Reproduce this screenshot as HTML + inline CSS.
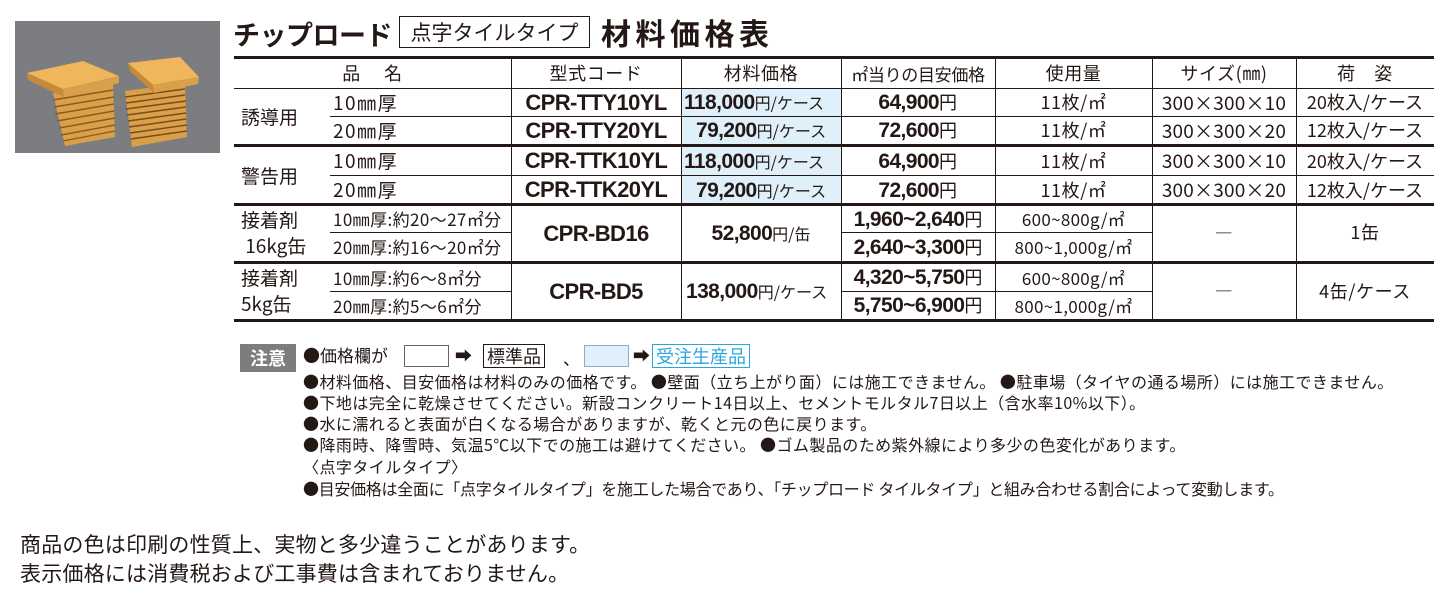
<!DOCTYPE html>
<html><head><meta charset="utf-8">
<style>
*{margin:0;padding:0;box-sizing:border-box}
body{width:1446px;height:608px;background:#fff;position:relative;overflow:hidden;font-family:"Noto Sans CJK JP","Liberation Sans",sans-serif;color:#231815}
.a{position:absolute;white-space:nowrap}
.c{position:absolute;white-space:nowrap;text-align:center;font-size:18px;letter-spacing:0.6px}
.h{position:absolute;background:#231815}
.v{position:absolute;background:#231815;width:1px}
.b{font-family:"Liberation Sans",sans-serif;font-weight:bold;font-size:22px;letter-spacing:-0.6px}
.bp{font-family:"Liberation Sans",sans-serif;font-weight:bold;font-size:21px;letter-spacing:-0.6px}
.sm{font-size:16px;letter-spacing:0}
.n{position:absolute;left:303px;font-size:16px;white-space:nowrap;letter-spacing:0.45px;line-height:21px}
.bl{position:absolute;background:#dff0fb}
.p{position:absolute;font-size:18px;letter-spacing:0.8px}
.g{position:absolute;font-size:19px;line-height:25px;white-space:nowrap}
</style></head><body>

<!-- photo -->
<svg class="a" style="left:15px;top:21px" width="205" height="132" viewBox="0 0 205 132">
<rect width="205" height="132" fill="#7c7d80"/>
<polygon points="38,72 98,62 100,116 50,125" fill="#d9a048"/>
<g stroke="#8a5a25" stroke-width="1.4">
<line x1="38" y1="79" x2="98" y2="69"/><line x1="39" y1="86" x2="99" y2="76"/><line x1="40" y1="93" x2="99" y2="83"/><line x1="42" y1="100" x2="99" y2="90"/><line x1="44" y1="107" x2="100" y2="97"/><line x1="46" y1="114" x2="100" y2="104"/><line x1="48" y1="120" x2="100" y2="110"/>
</g>
<polygon points="12,52 68,40 104,55 48,68" fill="#efb65c"/>
<polygon points="12,52 48,68 49,76 13,59" fill="#c88a3a"/>
<polygon points="48,68 104,55 104,62 49,76" fill="#d8a04a"/>
<polygon points="110,70 170,62 172,116 117,126" fill="#d9a048"/>
<g stroke="#7a4a20" stroke-width="1.4">
<line x1="110" y1="76" x2="170" y2="68"/><line x1="111" y1="82" x2="170" y2="74"/><line x1="111" y1="88" x2="171" y2="80"/><line x1="112" y1="94" x2="171" y2="86"/><line x1="113" y1="100" x2="171" y2="92"/><line x1="114" y1="106" x2="171" y2="98"/><line x1="115" y1="112" x2="172" y2="104"/><line x1="116" y1="118" x2="172" y2="110"/>
</g>
<polygon points="113,42 165,36 184,56 138,64" fill="#efb65c"/>
<polygon points="113,42 138,64 139,72 115,50" fill="#c88a3a"/>
<polygon points="138,64 184,56 183,63 139,72" fill="#d8a04a"/>
</svg>

<!-- title -->
<div class="a" style="left:233px;top:14px;font-size:27px;font-weight:bold;letter-spacing:-0.5px">チップロード</div>
<div class="a" style="left:399px;top:16px;width:191px;height:32px;border:1px solid #231815;font-size:21px;text-align:center;line-height:30px">点字タイルタイプ</div>
<div class="a" style="left:601px;top:12px;font-size:30px;font-weight:bold;letter-spacing:4.5px;line-height:40px">材料価格表</div>

<!-- blue cells -->
<div class="bl" style="left:681px;top:88px;width:160px;height:57px"></div>
<div class="bl" style="left:681px;top:147px;width:160px;height:57px"></div>

<!-- horizontal lines -->
<div class="h" style="left:234px;top:56px;width:1200px;height:3px"></div>
<div class="h" style="left:234px;top:88px;width:1200px;height:1px"></div>
<div class="h" style="left:330px;top:116px;width:1104px;height:1px"></div>
<div class="h" style="left:234px;top:144px;width:1200px;height:3px"></div>
<div class="h" style="left:330px;top:175px;width:1104px;height:1px"></div>
<div class="h" style="left:234px;top:203px;width:1200px;height:3px"></div>
<div class="h" style="left:330px;top:232px;width:181px;height:1px"></div>
<div class="h" style="left:841px;top:232px;width:311px;height:1px"></div>
<div class="h" style="left:234px;top:261px;width:1200px;height:3px"></div>
<div class="h" style="left:330px;top:291px;width:181px;height:1px"></div>
<div class="h" style="left:841px;top:291px;width:311px;height:1px"></div>
<div class="h" style="left:234px;top:319px;width:1200px;height:3px"></div>

<!-- vertical lines -->
<div class="v" style="left:511px;top:58px;height:262px"></div>
<div class="v" style="left:681px;top:58px;height:262px"></div>
<div class="v" style="left:841px;top:58px;height:262px"></div>
<div class="v" style="left:995px;top:58px;height:262px"></div>
<div class="v" style="left:1152px;top:58px;height:262px"></div>
<div class="v" style="left:1296px;top:58px;height:262px"></div>

<!-- header -->
<div class="c" style="left:234px;width:277px;top:59px;line-height:29px">品　 名</div>
<div class="c" style="left:511px;width:170px;top:59px;line-height:29px">型式コード</div>
<div class="c" style="left:681px;width:160px;top:59px;line-height:29px">材料価格</div>
<div class="c" style="left:841px;width:154px;top:59px;line-height:29px;font-size:17px;letter-spacing:-0.3px">㎡当りの目安価格</div>
<div class="c" style="left:995px;width:157px;top:59px;line-height:29px">使用量</div>
<div class="c" style="left:1152px;width:144px;top:59px;line-height:29px">サイズ(㎜)</div>
<div class="c" style="left:1296px;width:138px;top:59px;line-height:29px">荷　姿</div>

<!-- group names -->
<div class="g" style="left:241px;top:104px">誘導用</div>
<div class="g" style="left:241px;top:163px">警告用</div>
<div class="g" style="left:241px;top:207px;line-height:26px">接着剤<br>&nbsp;16kg缶</div>
<div class="g" style="left:241px;top:265px;line-height:26px">接着剤<br>5kg缶</div>

<!-- rows 1-4 -->
<div class="p" style="left:333px;top:89px;line-height:27px;font-size:19px;letter-spacing:1.5px">10㎜厚</div>
<div class="p" style="left:333px;top:117px;line-height:27px;font-size:19px;letter-spacing:1.5px">20㎜厚</div>
<div class="p" style="left:333px;top:147px;line-height:28px;font-size:19px;letter-spacing:1.5px">10㎜厚</div>
<div class="p" style="left:333px;top:176px;line-height:28px;font-size:19px;letter-spacing:1.5px">20㎜厚</div>

<div class="c b" style="left:511px;width:170px;top:89px;line-height:27px">CPR-TTY10YL</div>
<div class="c b" style="left:511px;width:170px;top:117px;line-height:27px">CPR-TTY20YL</div>
<div class="c b" style="left:511px;width:170px;top:147px;line-height:28px">CPR-TTK10YL</div>
<div class="c b" style="left:511px;width:170px;top:176px;line-height:28px">CPR-TTK20YL</div>

<div class="a" style="left:684px;top:89px;line-height:27px"><span class="bp">118,000</span><span class="sm">円/ケース</span></div>
<div class="a" style="left:696px;top:117px;line-height:27px"><span class="bp">79,200</span><span class="sm">円/ケース</span></div>
<div class="a" style="left:684px;top:147px;line-height:28px"><span class="bp">118,000</span><span class="sm">円/ケース</span></div>
<div class="a" style="left:696px;top:176px;line-height:28px"><span class="bp">79,200</span><span class="sm">円/ケース</span></div>

<div class="c" style="left:841px;width:154px;top:89px;line-height:27px"><span class="bp">64,900</span>円</div>
<div class="c" style="left:841px;width:154px;top:117px;line-height:27px"><span class="bp">72,600</span>円</div>
<div class="c" style="left:841px;width:154px;top:147px;line-height:28px"><span class="bp">64,900</span>円</div>
<div class="c" style="left:841px;width:154px;top:176px;line-height:28px"><span class="bp">72,600</span>円</div>

<div class="c" style="left:995px;width:157px;top:89px;line-height:27px">11枚/㎡</div>
<div class="c" style="left:995px;width:157px;top:117px;line-height:27px">11枚/㎡</div>
<div class="c" style="left:995px;width:157px;top:147px;line-height:28px">11枚/㎡</div>
<div class="c" style="left:995px;width:157px;top:176px;line-height:28px">11枚/㎡</div>

<div class="c" style="left:1152px;width:144px;top:89px;line-height:27px;font-size:19px;letter-spacing:0.2px">300×300×10</div>
<div class="c" style="left:1152px;width:144px;top:117px;line-height:27px;font-size:19px;letter-spacing:0.2px">300×300×20</div>
<div class="c" style="left:1152px;width:144px;top:147px;line-height:28px;font-size:19px;letter-spacing:0.2px">300×300×10</div>
<div class="c" style="left:1152px;width:144px;top:176px;line-height:28px;font-size:19px;letter-spacing:0.2px">300×300×20</div>

<div class="c" style="left:1296px;width:138px;top:89px;line-height:27px;letter-spacing:0">20枚入/ケース</div>
<div class="c" style="left:1296px;width:138px;top:117px;line-height:27px;letter-spacing:0">12枚入/ケース</div>
<div class="c" style="left:1296px;width:138px;top:147px;line-height:28px;letter-spacing:0">20枚入/ケース</div>
<div class="c" style="left:1296px;width:138px;top:176px;line-height:28px;letter-spacing:0">12枚入/ケース</div>

<!-- adhesive rows -->
<div class="a" style="left:333px;top:206px;line-height:26px;font-size:17px;letter-spacing:0.4px">10㎜厚:約20～27㎡分</div>
<div class="a" style="left:333px;top:233px;line-height:28px;font-size:17px;letter-spacing:0.4px">20㎜厚:約16～20㎡分</div>
<div class="a" style="left:333px;top:264px;line-height:27px;font-size:17px;letter-spacing:0.4px">10㎜厚:約6～8㎡分</div>
<div class="a" style="left:333px;top:292px;line-height:27px;font-size:17px;letter-spacing:0.4px">20㎜厚:約5～6㎡分</div>

<div class="c b" style="left:511px;width:170px;top:206px;line-height:55px">CPR-BD16</div>
<div class="c b" style="left:511px;width:170px;top:264px;line-height:55px">CPR-BD5</div>
<div class="c" style="left:681px;width:160px;top:206px;line-height:55px"><span class="bp">52,800</span><span class="sm">円/缶</span></div>
<div class="a" style="left:686px;top:264px;line-height:55px"><span class="bp">138,000</span><span class="sm">円/ケース</span></div>

<div class="c" style="left:841px;width:154px;top:206px;line-height:26px;letter-spacing:0"><span class="bp">1,960~2,640</span>円</div>
<div class="c" style="left:841px;width:154px;top:233px;line-height:28px;letter-spacing:0"><span class="bp">2,640~3,300</span>円</div>
<div class="c" style="left:841px;width:154px;top:264px;line-height:27px;letter-spacing:0"><span class="bp">4,320~5,750</span>円</div>
<div class="c" style="left:841px;width:154px;top:292px;line-height:27px;letter-spacing:0"><span class="bp">5,750~6,900</span>円</div>

<div class="c" style="left:995px;width:157px;top:206px;line-height:26px;font-size:17px;letter-spacing:0.3px">600~800g/㎡</div>
<div class="c" style="left:995px;width:157px;top:233px;line-height:28px;font-size:17px;letter-spacing:0.3px">800~1,000g/㎡</div>
<div class="c" style="left:995px;width:157px;top:264px;line-height:27px;font-size:17px;letter-spacing:0.3px">600~800g/㎡</div>
<div class="c" style="left:995px;width:157px;top:292px;line-height:27px;font-size:17px;letter-spacing:0.3px">800~1,000g/㎡</div>

<div class="c" style="left:1152px;width:144px;top:206px;line-height:55px">―</div>
<div class="c" style="left:1152px;width:144px;top:264px;line-height:55px">―</div>
<div class="c" style="left:1296px;width:138px;top:206px;line-height:52px">1缶</div>
<div class="c" style="left:1296px;width:138px;top:264px;line-height:55px">4缶/ケース</div>

<!-- notes -->
<div class="a" style="left:240px;top:344px;width:56px;height:28px;background:#7d7d7d;color:#fff;font-size:18px;font-weight:bold;text-align:center;line-height:28px">注意</div>
<div class="a" style="left:303px;top:343px;font-size:17px;line-height:24px">●価格欄が</div>
<div class="a" style="left:404px;top:345px;width:45px;height:22px;border:1px solid #666;background:#fff"></div>
<div class="a" style="left:455px;top:343px;font-size:17px;line-height:24px">➡</div>
<div class="a" style="left:483px;top:344px;height:24px;border:1px solid #231815;font-size:18px;line-height:22px;padding:0 3px">標準品</div>
<div class="a" style="left:563px;top:346px;font-size:17px;line-height:24px">、</div>
<div class="a" style="left:584px;top:345px;width:45px;height:22px;border:1px solid #9ab;background:#dff0fb"></div>
<div class="a" style="left:633px;top:343px;font-size:17px;line-height:24px">➡</div>
<div class="a" style="left:652px;top:344px;height:24px;border:1px solid #2aa6dc;color:#2aa6dc;font-size:18px;line-height:22px;padding:0 3px">受注生産品</div>

<div class="n" style="top:371px">●材料価格、目安価格は材料のみの価格です。 ●壁面（立ち上がり面）には施工できません。 ●駐車場（タイヤの通る場所）には施工できません。</div>
<div class="n" style="top:392px">●下地は完全に乾燥させてください。新設コンクリート14日以上、セメントモルタル7日以上（含水率10%以下）。</div>
<div class="n" style="top:413px">●水に濡れると表面が白くなる場合がありますが、乾くと元の色に戻ります。</div>
<div class="n" style="top:434px">●降雨時、降雪時、気温5℃以下での施工は避けてください。 ●ゴム製品のため紫外線により多少の色変化があります。</div>
<div class="n" style="top:456px">〈点字タイルタイプ〉</div>
<div class="n" style="top:478px;letter-spacing:-0.3px">●目安価格は全面に「点字タイルタイプ」を施工した場合であり、「チップロード タイルタイプ」と組み合わせる割合によって変動します。</div>

<div class="a" style="left:20px;top:530px;font-size:21px;line-height:29px;letter-spacing:0.2px">商品の色は印刷の性質上、実物と多少違うことがあります。<br>表示価格には消費税および工事費は含まれておりません。</div>
</body></html>
